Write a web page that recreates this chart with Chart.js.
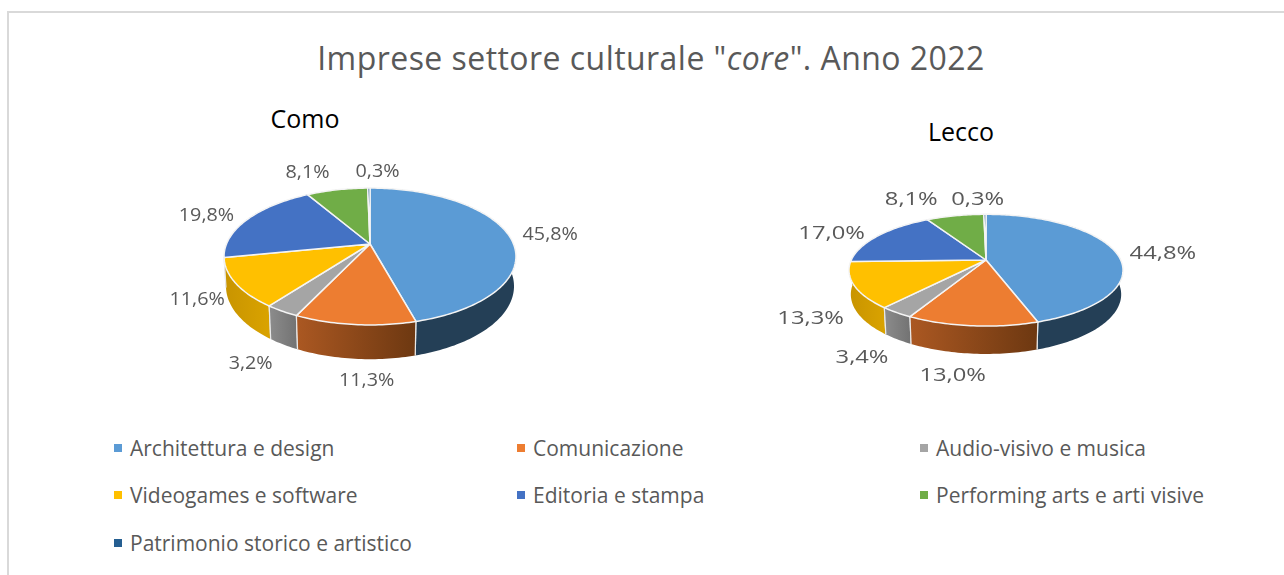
<!DOCTYPE html>
<html>
<head>
<meta charset="utf-8">
<title>Imprese settore culturale core</title>
<script src="https://cdn.jsdelivr.net/npm/chart.js@4"></script>
<style>
  html, body { margin: 0; padding: 0; background: #fff; width: 1284px; height: 575px; overflow: hidden; }
  #frame { position: absolute; left: 7px; top: 11px; width: 1290px; height: 600px; border: 2px solid #d9d9d9; }
  canvas { position: absolute; }
  .txt { position: absolute; white-space: nowrap; font-family: "Open Sans", sans-serif; transform: translate(-50%, -50%); }
  #title { left: 651px; top: 57px; font-size: 32px; color: #595959; letter-spacing: 0.45px; }
  .sub { font-size: 25px; color: #000; }
  #legend { position: absolute; left: 114px; top: 424px; display: grid; grid-template-columns: 403px 403px 403px; grid-auto-rows: 47.5px; }
  .item { display: flex; align-items: center; font-family: "Open Sans", sans-serif; font-size: 21px; color: #595959; white-space: nowrap; }
  .item i { display: block; width: 8px; height: 8px; margin-right: 8px; }
</style>
</head>
<body>
<div id="frame"></div>
<div id="title" class="txt">Imprese settore culturale "<em>core</em>". Anno 2022</div>
<div class="txt sub" style="left:305px;top:118px">Como</div>
<div class="txt sub" style="left:961px;top:131px">Lecco</div>
<div id="legend"></div>
<canvas id="como" width="480" height="480" style="left:130px;top:4px"></canvas>
<canvas id="lecco" width="480" height="480" style="left:746px;top:20px"></canvas>
<script>
const categories = ["Architettura e design", "Comunicazione", "Audio-visivo e musica", "Videogames e software", "Editoria e stampa", "Performing arts e arti visive", "Patrimonio storico e artistico"];
const comoValues = [45.8, 11.3, 3.2, 11.6, 19.8, 8.1, 0.3];
const leccoValues = [44.8, 13.0, 3.4, 13.3, 17.0, 8.1, 0.3];
const colors = ["#5b9bd5", "#ed7d31", "#a5a5a5", "#ffc000", "#4472c4", "#70ad47", "#255e91"];
const wallLeft = ["#243f56", "#ab5822", "#8c8c8c", "#c89400", "#2c4a80", "#44692b", "#16395a"];
const wallRight = ["#243f56", "#6d3811", "#727272", "#daa300", "#2c4a80", "#44692b", "#16395a"];

// fake 3D: project the flat arc through a perspective tilt
const TILT = 0.1825;

function project(t, R, squash, depth) {
  const u = Math.cos(t), v = Math.sin(t);
  const far = depth > 0 ? 0.013 : 0;
  const w = 1 - TILT * v + far;
  return { x: R * u / w, y: (R * squash * v + depth) / w };
}

function rim(a, t1, t2, squash, depth) {
  const pts = [];
  const n = Math.max(2, Math.ceil(Math.abs(t2 - t1) / 0.02));
  for (let i = 0; i <= n; i++) {
    const t = t1 + (t2 - t1) * i / n;
    const p = project(t, a.outerRadius, squash, depth);
    pts.push({ x: a.x + p.x, y: a.y + p.y });
  }
  return pts;
}

const pie3d = {
  id: 'pie3d',
  beforeDatasetDraw(chart, args, opts) {
    const ctx = chart.ctx;
    const arcs = args.meta.data.map(el => el.getProps(['x', 'y', 'startAngle', 'endAngle', 'outerRadius'], true));
    const depth = opts.depth, squash = opts.squash;

    // walls, back to front
    const order = arcs.map((a, i) => i).sort((p, q) =>
      Math.sin((arcs[p].startAngle + arcs[p].endAngle) / 2) - Math.sin((arcs[q].startAngle + arcs[q].endAngle) / 2));
    order.forEach(i => {
      const a = arcs[i];
      const top = rim(a, a.startAngle, a.endAngle, squash, 0);
      const bottom = rim(a, a.endAngle, a.startAngle, squash, depth);
      const pts = top.concat(bottom);
      const xs = pts.map(p => p.x);
      const g = ctx.createLinearGradient(Math.min(...xs), 0, Math.max(...xs), 0);
      g.addColorStop(0, wallLeft[i]);
      g.addColorStop(1, wallRight[i]);
      ctx.beginPath();
      pts.forEach((p, k) => k ? ctx.lineTo(p.x, p.y) : ctx.moveTo(p.x, p.y));
      ctx.closePath();
      ctx.fillStyle = g;
      ctx.fill();
      // seams between wall pieces
      ctx.strokeStyle = '#e9e9e9';
      ctx.lineWidth = 1.2;
      [[top[0], bottom[bottom.length - 1]], [top[top.length - 1], bottom[0]]].forEach(s => {
        if (Math.sin(Math.atan2(s[0].y - a.y, s[0].x - a.x)) > 0.05) {
          ctx.beginPath();
          ctx.moveTo(s[0].x, s[0].y);
          ctx.lineTo(s[1].x, s[1].y);
          ctx.stroke();
        }
      });
    });

    // top faces
    arcs.forEach((a, i) => {
      ctx.beginPath();
      ctx.moveTo(a.x, a.y);
      rim(a, a.startAngle, a.endAngle, squash, 0).forEach(p => ctx.lineTo(p.x, p.y));
      ctx.closePath();
      ctx.fillStyle = colors[i];
      ctx.fill();
      ctx.strokeStyle = '#f4f4f4';
      ctx.lineWidth = 1.5;
      ctx.lineJoin = 'round';
      ctx.stroke();
    });

    // value labels
    ctx.font = opts.font;
    ctx.fillStyle = '#595959';
    ctx.textAlign = 'center';
    ctx.textBaseline = 'middle';
    arcs.forEach((a, i) => {
      const value = chart.data.datasets[0].data[i];
      const txt = value.toFixed(1).replace('.', ',') + '%';
      const mid = (a.startAngle + a.endAngle) / 2;
      const p = project(mid, a.outerRadius, squash, 0);
      const hw = ctx.measureText(txt).width * opts.stretch / 2;
      const lx = a.x + p.x + Math.cos(mid) * (hw + 6) + opts.nudge[i][0];
      const ly = a.y + p.y + Math.sin(mid) * 12 + (Math.sin(mid) > 0 ? depth * Math.sin(mid) : 0) + opts.nudge[i][1];
      ctx.save();
      ctx.translate(lx, ly);
      ctx.scale(opts.stretch, 1);
      ctx.fillText(txt, 0, 0);
      ctx.restore();
    });
    return false;
  }
};

function makePie(id, values, padding, labelOpts) {
  return new Chart(document.getElementById(id), {
    type: 'pie',
    data: { labels: categories, datasets: [{ data: values, backgroundColor: colors, borderWidth: 0 }] },
    plugins: [pie3d],
    options: {
      responsive: false,
      animation: false,
      events: [],
      layout: { padding: padding },
      plugins: { legend: { display: false }, tooltip: { enabled: false }, pie3d: labelOpts }
    }
  });
}

makePie('como', comoValues, 96.5, {
  squash: 0.461, depth: 29.5, font: '19px "Open Sans"', stretch: 1.04,
  nudge: [[8, 1], [15, 15], [-17, 17], [-10, -6], [-11, 2], [-22, -6], [9, -4]]
});
makePie('lecco', leccoValues, 105.3, {
  squash: 0.401, depth: 24, font: '19px "Open Sans"', stretch: 1.25,
  nudge: [[9, 4], [-16, 14], [-16, 15], [-8, 18], [-12, 4], [-35, -5], [-7, -3]]
});

const legendEl = document.getElementById('legend');
categories.forEach((c, i) => {
  const item = document.createElement('div');
  item.className = 'item';
  const sw = document.createElement('i');
  sw.style.background = colors[i];
  item.appendChild(sw);
  item.appendChild(document.createTextNode(c));
  legendEl.appendChild(item);
});
</script>
</body>
</html>
